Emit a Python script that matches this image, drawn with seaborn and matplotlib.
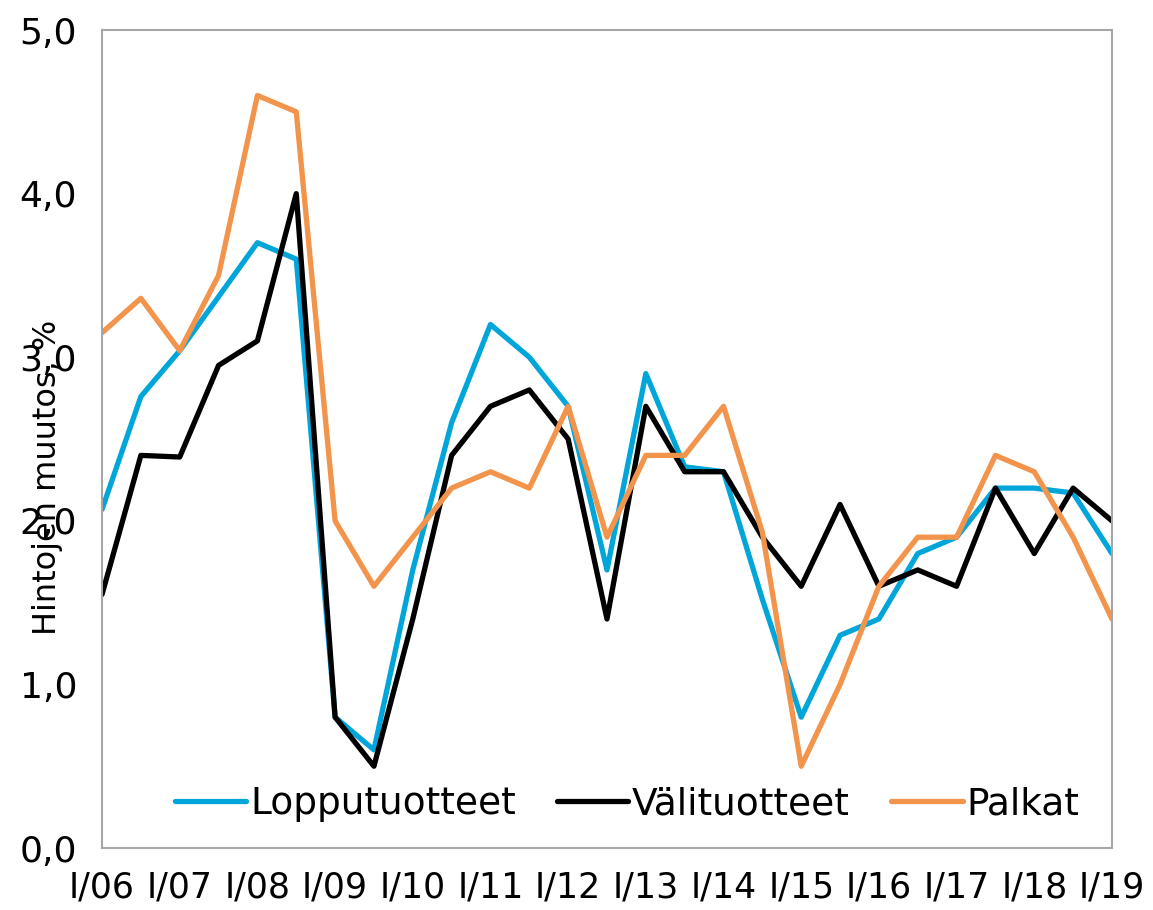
import matplotlib
matplotlib.use("Agg")
import matplotlib.pyplot as plt
import pandas as pd
import seaborn as sns

# half-year observations, I/06 ... I/19
periods = [2006 + 0.5 * i for i in range(27)]
year_labels = ["I/06", "I/07", "I/08", "I/09", "I/10", "I/11", "I/12",
               "I/13", "I/14", "I/15", "I/16", "I/17", "I/18", "I/19"]

lopputuotteet = [2.07, 2.76, 3.04, 3.37, 3.7, 3.6, 0.8, 0.6, 1.7, 2.6,
                 3.2, 3.0, 2.7, 1.7, 2.9, 2.33, 2.3, 1.52, 0.8, 1.3,
                 1.4, 1.8, 1.9, 2.2, 2.2, 2.17, 1.8]
valituotteet = [1.55, 2.4, 2.39, 2.95, 3.1, 4.0, 0.8, 0.5, 1.4, 2.4,
                2.7, 2.8, 2.5, 1.4, 2.7, 2.3, 2.3, 1.9, 1.6, 2.1,
                1.6, 1.7, 1.6, 2.2, 1.8, 2.2, 2.0]
palkat = [3.15, 3.36, 3.04, 3.5, 4.6, 4.5, 2.0, 1.6, 1.9, 2.2,
          2.3, 2.2, 2.7, 1.9, 2.4, 2.4, 2.7, 1.93, 0.5, 1.0,
          1.6, 1.9, 1.9, 2.4, 2.3, 1.9, 1.4]

series_names = ["Lopputuotteet", "Välituotteet", "Palkat"]
colors = ["#00A5DA", "#000000", "#F2944B"]

df = pd.concat([
    pd.DataFrame({"aika": periods, "muutos": vals, "sarja": name})
    for name, vals in zip(series_names, [lopputuotteet, valituotteet, palkat])
])

sns.set_style("white")
plt.rcParams["font.family"] = ["DejaVu Sans"]
plt.rcParams["text.color"] = "black"
plt.rcParams["xtick.color"] = "black"
plt.rcParams["ytick.color"] = "black"

fig = plt.figure(figsize=(11.53, 9.10), dpi=100)
ax = fig.add_axes([0.0885, 0.0681, 0.8759, 0.8989])

sns.lineplot(data=df, x="aika", y="muutos", hue="sarja",
             hue_order=series_names, palette=colors, linewidth=3.8,
             ax=ax, legend=True)

ax.set_xlim(2006, 2019)
ax.set_ylim(0, 5)
ax.set_xticks(range(2006, 2020))
ax.set_xticklabels(year_labels, fontsize=25)
ax.set_yticks([0, 1, 2, 3, 4, 5])
ax.set_yticklabels(["0,0", "1,0", "2,0", "3,0", "4,0", "5,0"], fontsize=26)
ax.tick_params(axis="x", direction="out", length=10, width=1.3, color="#9a9a9a", pad=6)
ax.tick_params(axis="y", direction="out", length=9, width=1.3, color="#9a9a9a", pad=9)
ax.set_xlabel("")
ax.set_ylabel("")
for s in ax.spines.values():
    s.set_color("#a6a6a6")
    s.set_linewidth(1.5)

fig.text(0.041, 0.475, "Hintojen muutos, %", rotation=90, fontsize=23,
         ha="center", va="center")

ax.legend(loc="lower center", bbox_to_anchor=(0.52, -0.01), ncol=3,
          frameon=False, fontsize=27, handlelength=1.9, handletextpad=0.1,
          columnspacing=1.1)

fig.savefig("out.png", dpi=100)
